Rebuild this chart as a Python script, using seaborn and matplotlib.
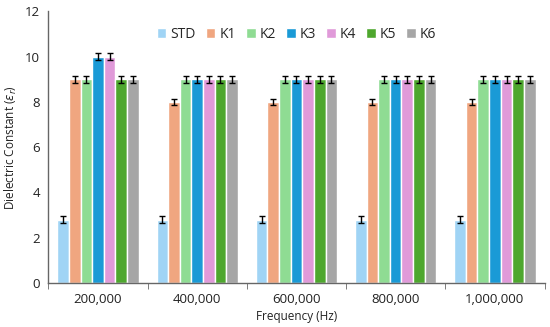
import numpy as np
import pandas as pd
import matplotlib
matplotlib.use('Agg')
import matplotlib.pyplot as plt
from matplotlib.container import BarContainer
import seaborn as sns

# data
frequencies = ['200,000', '400,000', '600,000', '800,000', '1,000,000']
samples = ['STD', 'K1', 'K2', 'K3', 'K4', 'K5', 'K6']
values = {
    'STD': [2.8, 2.8, 2.8, 2.8, 2.8],
    'K1': [9, 8, 8, 8, 8],
    'K2': [9, 9, 9, 9, 9],
    'K3': [10, 9, 9, 9, 9],
    'K4': [10, 9, 9, 9, 9],
    'K5': [9, 9, 9, 9, 9],
    'K6': [9, 9, 9, 9, 9],
}
err = 0.15
colors = ['#a0d4f5', '#f0a680', '#8fdc93', '#1a9ad6', '#e09ad9', '#4ea72e', '#a6a6a6']

rows = []
for s in samples:
    for f, v in zip(frequencies, values[s]):
        rows.append({'freq': f, 'sample': s, 'value': v})
df = pd.DataFrame(rows)

sns.set_style('white')
plt.rcParams['font.family'] = ['Open Sans', 'DejaVu Sans']

fig, ax = plt.subplots(figsize=(5.5, 3.27), dpi=100)
sns.barplot(data=df, x='freq', y='value', hue='sample', order=frequencies,
            hue_order=samples, palette=colors, errorbar=None, width=0.82,
            saturation=1, ax=ax)

# error bars at the bar centres
bar_conts = [c for c in ax.containers if isinstance(c, BarContainer)]
for cont in bar_conts:
    xs = [p.get_x() + p.get_width() / 2 for p in cont]
    ys = [p.get_height() for p in cont]
    ax.errorbar(xs, ys, yerr=err, fmt='none', ecolor='black', elinewidth=1,
                capsize=2.5, capthick=1)

ax.set_ylim(0, 12)
ax.set_yticks(np.arange(0, 13, 2))
ax.set_xlim(-0.5, len(frequencies) - 0.5)
ax.set_xticks(np.arange(len(frequencies)))
ax.set_xticklabels(frequencies)
ax.set_xticks(np.arange(-0.5, len(frequencies)), minor=True)
ax.tick_params(axis='x', which='major', length=0, labelsize=9.5, colors='#222222', pad=7)
ax.tick_params(axis='x', which='minor', length=4, color='#666666', bottom=True)
ax.tick_params(axis='y', length=0, labelsize=9.5, colors='#222222', pad=6)
ax.set_xlabel('Frequency (Hz)', fontsize=8.5, color='#222222', labelpad=3)
ax.set_ylabel('Dielectric Constant ($\\varepsilon_r$)', fontsize=8.5, color='#222222')
for side in ['top', 'right']:
    ax.spines[side].set_visible(False)
for side in ['left', 'bottom']:
    ax.spines[side].set_color('#666666')
    ax.spines[side].set_linewidth(1)

ax.legend(loc='upper center', bbox_to_anchor=(0.5, 0.99), ncol=7, frameon=False,
          fontsize=10, handlelength=0.7, handleheight=0.7, handletextpad=0.3,
          columnspacing=0.7)

plt.subplots_adjust(left=0.088, right=0.99, top=0.965, bottom=0.135)
plt.savefig('out.png', dpi=100)
